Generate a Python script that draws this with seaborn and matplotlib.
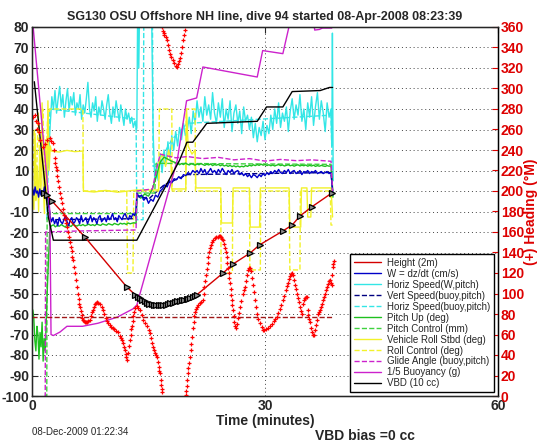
import numpy as np
import matplotlib
matplotlib.use("Agg")
import matplotlib.pyplot as plt
from matplotlib.lines import Line2D
import seaborn as sns

sns.set_style("white")
plt.rcParams['font.family'] = ['Liberation Sans', 'DejaVu Sans']

# ---------------- data (time in minutes) ----------------
# Height (2m): depth/2
height_t = [1.5, 1.9, 2.6, 6.8, 12.2, 13.3, 13.6, 13.9, 14.2, 14.5, 14.8, 15.1, 15.4, 15.7, 16.0,
            16.3, 16.6, 16.9, 17.2, 17.5, 17.8, 18.1, 18.4, 18.7, 19.0, 19.3, 19.6, 19.9, 20.1,
            20.4, 20.7, 21.0, 21.2, 24.6, 25.9, 28.1, 29.3, 32.3, 33.5, 34.5, 36.0, 38.6]
height_v = [-1, -2, -5, -22.4, -46.8, -50.7, -51.6, -52.4, -53.1, -53.8, -54.4, -54.9, -55.2, -55.5, -55.7,
            -55.8, -55.8, -55.6, -55.4, -55.1, -54.8, -54.4, -54.0, -53.7, -53.5, -53.3, -53.0, -52.8, -52.7,
            -52.2, -51.6, -51.1, -50.7, -40, -35.6, -30.2, -26.3, -19.5, -16.6, -12.2, -7.8, -1]

# W = dz/dt (cm/s)
w_pre = [1, -2, 2, -1, 0, -3, 1, -2, 0, -1, 2, -3, -1]
w_dive = [-15, -13, -16, -14, -17, -13, -15, -16, -14, -12, -15, -17, -14, -13, -16, -15, -13, -14,
          -16, -12, -15, -14, -13, -16, -14, -12, -15, -13, -14, -16, -13, -12, -15, -14, -13, -15,
          -12, -14, -13, -11, -14, -13, -15, -12, -13, -14, -12, -11, -13, -14, -12, -13, -11, -12, -10]
w_turn_t = [13.5, 13.8, 14.1, 14.4, 14.7, 15.0, 15.3, 15.6, 15.9, 16.2, 16.5, 16.8, 17.1, 17.4, 17.7,
            18.0, 18.3, 18.6, 18.9, 19.2, 19.5, 19.8, 20.1, 20.4, 20.7, 21.0]
w_turn_v = [-1, -3, -2, -4.5, -3, -6, -4, -5, -2, -3, 0, 1, 3, 2, 5, 4, 6, 5.5, 7, 6, 8, 7.5, 9, 8, 10, 9]
w_climb = [10, 8.5, 11, 9, 10.5, 8, 9.5, 11, 9, 10, 8.5, 10.5, 9, 11, 9.5, 8, 10, 9, 10.5, 8.5, 9.5, 10,
           8, 9, 7.5, 8.5, 7, 8, 6.5, 8, 7.5, 6.5, 8, 7, 8.5, 7.5, 9, 8, 9.5, 8.5, 10, 9, 10.5, 9, 8.5,
           10, 9, 10.5, 8.5, 9.5, 10, 8.5, 9, 10, 8, 9.5, 9, 10, 8.5, 9.5, 9, 10, 8.5, 9, 9.5, 8.5, 9,
           9.5, 8.5, 9]

# Horiz Speed (W,pitch)
hs_dive = [5, 18, 33, 46, 40, 49, 38, 45, 51, 41, 47, 36, 44, 50, 39, 46, 42, 48, 37, 43, 40, 47, 35,
           42, 38, 45, 53, 40, 36, 43, 39, 46, 34, 41, 37, 44, 40, 35, 42, 47, 38, 33, 41, 36, 44, 39,
           34, 42, 37, 32, 40, 35, 38, 33, 36, 31, 34, 30]
hs_turn_t = [13.5, 13.6, 13.75, 13.85, 15.4, 15.6, 15.8]
hs_turn_v = [31, 88, 60, 88, 88, 28, 6]
hs_climb = [12, 5, 18, 9, 20, 13, 24, 16, 27, 20, 29, 22, 31, 25, 33, 27, 30, 36, 28, 39, 33, 44, 36,
            41, 34, 46, 37, 42, 35, 48, 38, 33, 43, 36, 45, 31, 40, 35, 44, 29, 38, 42, 33, 39, 28, 41,
            34, 37, 30, 36, 26, 33, 24, 31, 27, 34, 25, 32, 28, 37, 30, 40, 33, 43, 31, 38, 34, 41, 29,
            39, 45, 35, 42, 37, 47, 34, 40, 30, 43, 36, 46, 32, 41, 48, 35, 44, 38, 29, 43, 36, 40]
hs_end_t = [38.6, 38.68, 38.78]
hs_end_v = [22, 77, 5]

# Vert Speed (buoy,pitch)
vsb_t = [2.0, 2.4, 13.4, 13.5, 15.0, 17.0, 20.0, 38.5, 38.7]
vsb_v = [-2, -14, -13.5, -2, -4, 3, 8, 9, 0]

# Horiz Speed (buoy,pitch)
hsb_t = [1.9, 2.3, 13.4, 13.5, 14.3, 14.4, 15.5, 15.6, 16.5, 18.0, 20.0, 38.5, 38.7]
hsb_v = [-14, 40, 35, -14, -14, 90, 90, 12, 15, 25, 33, 37, 5]

# Pitch Up (deg)
pitch_pre = [-58, -62, -73, -78, -66, -70, -82, -69, -76, -64, -83, -72, -78]
pitch_dive = [-17, -16.5, -17.5, -16.8, -17.2, -16.4, -17, -17.6, -16.6, -16.9, -17.3, -16.2, -16.8,
              -17.1, -16.5, -16.9, -16.3, -17, -16.6, -16.2, -16.8, -16.4, -16.9, -16.1, -16.5, -16.8,
              -16, -16.4, -16.7, -15.9, -16.3, -16.6, -15.8, -16.2, -16.5, -15.7, -16.1, -15.8, -16.3,
              -15.6, -16, -15.7, -15.5, -15.9]
pitch_turn_t = [13.5, 14.0, 14.5, 15.0, 15.5, 16.0, 16.5, 17.0, 17.5, 18.0, 18.5]
pitch_turn_v = [-2, -3.5, -1.5, -2.5, 1, 7, 14, 16.5, 15.5, 14.5, 13.8]
pitch_climb = [13.5, 12.8, 13.4, 12.9, 13.6, 13.1, 12.7, 13.3, 13.0, 12.6, 13.2, 12.8, 13.4, 12.9, 12.5,
               13.1, 12.7, 13.2, 12.4, 12.9, 12.6, 13.0, 12.3, 12.8, 12.2, 12.6, 12.0, 12.5, 11.9, 12.3,
               11.8, 12.2, 11.7, 12.1, 11.8, 12.4, 12.0, 12.6, 12.2, 12.8, 12.4, 12.9, 12.5, 13.1, 12.6,
               12.9, 12.4, 12.8, 12.3, 12.7, 12.2, 12.6, 12.9, 12.4, 12.7, 12.2, 12.5, 12.8, 12.3, 12.6,
               12.1, 12.5, 12.8, 12.2, 12.6, 12.3, 12.7, 12.1, 12.5, 12.2, 12.6, 12.0, 12.4, 12.1, 12.5,
               12.2, 12.0, 12.4, 12.1, 12.3]

# Pitch Control (mm)
pc_t = [0.0, 1.9, 1.95, 13.4, 13.5, 15.8, 16.0, 38.5, 38.7]
pc_v = [-105, -105, -11, -11, -1, -1, 13.5, 13, 0]

# Vehicle Roll Stbd (deg)
roll_t = [0.1, 0.25, 0.4, 0.55, 0.7, 0.85, 1.0, 1.15, 1.3, 1.45, 1.6, 1.75, 1.9, 2.05, 2.2, 2.35, 2.5,
          3.5, 4.5, 5.5, 6.55, 6.62, 8.0, 9.5, 11.0, 12.4, 13.5, 16.3, 16.4, 16.8, 17.2, 17.6, 17.9,
          18.0, 19.8, 19.9, 20.1, 20.6, 21.0, 21.1, 24.3, 24.4, 25.8, 25.9, 28.0, 28.1, 29.3, 29.4,
          33.1, 33.2, 34.6, 34.7, 35.4, 35.5, 35.9, 36.0, 38.5, 38.7]
roll_v = [0, -9, 28, -4, 12, -10, 20, 0, 43, 3, -11, 25, -6, 44, 10, 22, 19.5,
          19, 19.8, 19.2, 19.5, 0, -0.5, 0.3, -0.6, 0, 0.5, 0.5, 15, 18, 12, 20, 14,
          1, 1, 40, 22, 18, 20, 1.5, 1.5, -15.6, -15.6, 1.5, 1.5, -17.6, -17.6, 1.5,
          1.5, -17.6, -17.6, 1.5, 1.5, -12.7, -12.7, 1.5, 1.5, -12.7]

# Roll Control (deg)
rc_t = [0.1, 0.3, 0.5, 0.8, 1.1, 1.4, 1.7, 2.0, 2.3, 6.55, 6.62, 12.2, 12.3, 13.0, 13.1, 16.3, 16.4,
        18.0, 18.05, 19.8, 19.85, 21.0, 21.05, 24.3, 24.35, 25.8, 25.85, 28.0, 28.05, 29.4, 29.45,
        33.1, 33.2, 34.5, 34.55, 38.4, 38.5, 38.7]
rc_v = [5, 30, -5, 38, 0, 40, -3, 35, 40, 40, 0, 0, -40, -40, 0, 0, 40,
        40, 0, 0, 40, 40, 0, 0, -40, -40, 0, 0, -38.5, -38.5, 0,
        0, -38.5, -38.5, 0, 0, -16.6, -16.6]

# Glide Angle (buoy,pitch)
ga_t = [0.0, 1.7, 1.75, 5.0, 9.0, 13.4, 13.5, 15.5, 16.0, 16.5, 17.0, 18.5, 20.0, 22.0, 24.0, 26.0,
        28.0, 30.0, 32.0, 34.0, 36.0, 38.5, 38.7]
ga_v = [-105, -105, -20, -19.6, -19.3, -19, 0, 1, 10, 18, 17.5, 16.2, 16.8, 15.8, 16.4, 15.2, 15.8,
        14.6, 15.4, 14.8, 15.2, 14.5, 0]

# 1/5 Buoyancy (g)
buoy_t = [0.0, 0.15, 2.3, 2.45, 2.75, 3.6, 4.5, 6.5, 8.5, 11.0, 13.0, 13.5, 18.7, 19.9, 21.2, 22.0,
          29.0, 29.7, 32.3, 33.2, 36.3, 36.4, 37.0, 37.4, 38.6]
buoy_v = [85, 80, -10, -70, -70.5, -68.8, -66, -66, -64.5, -61.5, -57.5, -55.6, 15, 44, 45.4, 60.5,
          55.6, 68.5, 67, 82, 82, 78.5, 78.8, 79.5, 79.5]

# VBD (10 cc)
vbd_t = [0.3, 2.1, 2.75, 13.5, 19.0, 19.95, 20.7, 22.5, 29.0, 30.2, 32.3, 33.5, 37.1, 38.3, 38.7]
vbd_v = [53.3, -12.7, -24, -24, 15, 23.8, 23.8, 33, 34, 41, 41, 48.5, 49, 50.5, 50.5]

# (+) Heading (deg M), right axis, as (minute, heading) pairs
heading_dive = [(0.13, 272), (0.39, 274), (0.5, 268), (0.64, 260), (0.77, 266), (0.9, 258), (1.03, 250),
    (1.42, 243), (1.7, 246), (1.93, 250), (2.32, 252), (2.5, 249), (2.7, 247), (2.8, 240), (2.9, 232),
    (2.96, 227), (3.08, 223), (3.2, 220), (3.28, 215), (3.35, 210), (3.47, 204), (3.6, 198), (3.73, 193),
    (3.86, 188), (4.0, 182), (4.12, 177), (4.25, 173), (4.38, 169), (4.5, 165), (4.62, 160), (4.75, 155),
    (4.9, 150), (5.0, 145), (5.1, 141), (5.2, 136), (5.28, 133), (5.4, 126), (5.53, 120), (5.66, 113),
    (5.79, 106), (5.9, 100), (6.0, 95), (6.1, 90), (6.18, 87), (6.28, 83), (6.38, 79), (6.47, 76),
    (6.56, 74), (6.7, 73), (6.85, 72), (7.0, 72), (7.08, 72), (7.25, 73), (7.46, 74), (7.6, 78),
    (7.75, 82), (7.85, 84), (8.0, 87), (8.1, 90), (8.25, 91), (8.37, 92), (8.55, 91), (8.75, 90),
    (8.95, 87), (9.14, 84), (9.3, 80), (9.52, 76), (9.65, 73), (9.78, 71), (10.0, 69), (10.2, 67),
    (10.4, 66), (10.6, 65), (10.85, 63), (11.07, 62), (11.3, 59), (11.45, 57), (11.58, 55), (11.7, 52),
    (11.85, 48), (11.97, 45), (12.05, 41), (12.15, 38), (12.23, 35), (12.35, 42), (12.45, 49),
    (12.6, 55), (12.7, 60), (12.8, 65), (12.87, 68), (12.95, 73), (13.05, 78), (13.13, 82), (13.3, 86),
    (13.5, 88), (13.7, 86), (13.9, 84), (14.1, 79), (14.29, 74), (14.5, 71), (14.8, 68), (15.0, 64),
    (15.19, 61), (15.3, 57), (15.45, 52), (15.57, 48), (15.7, 45), (15.83, 42), (15.95, 40), (16.09, 38),
    (16.2, 33), (16.3, 28), (16.4, 24), (16.47, 22), (16.55, 16), (16.62, 11), (16.68, 7), (16.73, 4)]
heading_turn = [(16.75, 360), (16.85, 356), (16.95, 354), (17.05, 352), (17.2, 350), (17.37, 347),
    (17.5, 342), (17.63, 338), (17.76, 334), (17.95, 331), (18.15, 328), (18.3, 325), (18.5, 322),
    (18.66, 321), (18.8, 324), (18.92, 327), (19.05, 330), (19.15, 335), (19.3, 340), (19.43, 347),
    (19.55, 352), (19.65, 357), (19.8, 1), (19.88, 5), (19.95, 10), (20.02, 16), (20.08, 22), (20.15, 27),
    (20.22, 32), (20.33, 38), (20.42, 45), (20.5, 51), (20.6, 58), (20.7, 66), (20.8, 72), (20.9, 78),
    (20.98, 82), (21.1, 85), (21.24, 87), (21.4, 89), (21.6, 91), (21.8, 92), (22.0, 94)]
heading_climb = [(22.1, 100), (22.2, 106), (22.3, 112), (22.4, 118), (22.5, 124), (22.6, 130), (22.7, 136),
    (22.8, 140), (22.9, 144), (23.05, 147), (23.17, 150), (23.35, 152), (23.55, 154), (23.75, 155),
    (23.94, 155), (24.1, 156), (24.2, 156), (24.3, 155), (24.45, 153), (24.58, 152), (24.7, 148),
    (24.84, 144), (24.95, 140), (25.05, 136), (25.15, 130), (25.25, 125), (25.35, 120), (25.42, 115),
    (25.48, 110), (25.56, 104), (25.64, 99), (25.74, 94), (25.8, 89), (25.87, 84), (25.95, 78),
    (26.04, 72), (26.13, 68), (26.25, 66), (26.38, 70), (26.5, 76), (26.62, 81), (26.77, 87),
    (26.95, 93), (27.15, 100), (27.28, 103), (27.41, 106), (27.55, 112), (27.68, 118), (27.8, 123),
    (27.93, 125), (28.06, 125), (28.2, 122), (28.32, 115), (28.44, 108), (28.57, 101), (28.7, 94),
    (28.83, 87), (28.96, 80), (29.15, 75), (29.34, 71), (29.55, 67), (29.73, 64), (29.9, 64), (30.1, 65),
    (30.35, 66), (30.63, 68), (30.85, 70), (31.1, 73), (31.3, 75), (31.5, 77), (31.7, 81), (31.9, 85),
    (32.1, 89), (32.3, 94), (32.5, 98), (32.7, 103), (32.85, 107), (32.95, 110), (33.1, 114), (33.2, 117),
    (33.33, 119), (33.46, 120), (33.6, 118), (33.72, 113), (33.85, 108), (33.97, 104), (34.1, 100),
    (34.23, 96), (34.36, 92), (34.5, 87), (34.62, 83), (34.75, 80), (34.88, 90), (35.0, 94), (35.1, 96),
    (35.25, 97), (35.4, 97), (35.5, 84), (35.6, 79), (35.7, 75), (35.8, 72), (35.9, 66), (36.0, 62),
    (36.15, 60), (36.3, 60), (36.4, 64), (36.55, 69), (36.7, 74), (36.8, 80), (36.93, 82), (37.07, 84),
    (37.2, 87), (37.3, 90), (37.45, 94), (37.57, 97), (37.7, 100), (37.83, 103), (37.97, 106), (38.1, 109),
    (38.2, 112), (38.35, 113), (38.48, 110), (38.6, 108), (38.68, 118), (38.74, 126), (38.8, 129),
    (38.87, 132)]
head_target = [77, 77]
head_target_t = [0.0, 38.6]

y_ticks = list(range(-100, 81, 10))
h_ticks = list(range(0, 361, 20))
x_ticks = [0, 30, 60]

# ---------------- assemble ----------------
def seg(t0, t1, vals):
    return np.linspace(t0, t1, len(vals))

w_t = np.concatenate([seg(0.1, 1.9, w_pre), [2.1, 2.3], seg(2.5, 13.4, w_dive), w_turn_t,
                      seg(21.25, 38.5, w_climb), [38.65, 38.75]])
w_v = np.concatenate([w_pre, [-5, -12], w_dive, w_turn_v, w_climb, [2, -2]])
hs_t = np.concatenate([seg(1.95, 13.45, hs_dive), hs_turn_t, seg(16.0, 38.5, hs_climb), hs_end_t])
hs_v = np.concatenate([hs_dive, hs_turn_v, hs_climb, hs_end_v])
p_t = np.concatenate([seg(0.1, 1.7, pitch_pre), [2.0, 2.3], seg(2.5, 13.4, pitch_dive), pitch_turn_t,
                      seg(18.75, 38.5, pitch_climb), [38.65, 38.75]])
p_v = np.concatenate([pitch_pre, [-45, -18], pitch_dive, pitch_turn_v, pitch_climb, [5, -3]])
heading = np.array(heading_dive + heading_turn + heading_climb, float)

# ---------------- figure ----------------
fig = plt.figure(figsize=(5.46, 4.42), dpi=100)
ax = fig.add_axes([32 / 546, 1 - 396 / 442, 466 / 546, 369 / 442])
ax2 = ax.twinx()

C_RED = '#d40000'
C_BLUE = '#0000c8'
C_CYAN = '#33e6e6'
C_NAVY = '#000080'
C_GREEN = '#1fc01f'
C_GREEN2 = '#3fd23f'
C_YEL = '#f2f22a'
C_MAG = '#cc22cc'

def line(x, y, color, ls='-', lw=1.0, **kw):
    sns.lineplot(x=np.asarray(x, float), y=np.asarray(y, float), ax=ax, color=color, linestyle=ls,
                 linewidth=lw, estimator=None, sort=False, legend=False, **kw)

line(hs_t, hs_v, C_CYAN)
line(hsb_t, hsb_v, C_CYAN, '--')
line(vsb_t, vsb_v, C_NAVY, '--')
line(roll_t, roll_v, C_YEL)
line(rc_t, rc_v, C_YEL, '--')
line(pc_t, pc_v, C_GREEN2, '--')
line(p_t, p_v, C_GREEN)
line(w_t, w_v, C_BLUE)
line(ga_t, ga_v, C_MAG, '--')
line(buoy_t, buoy_v, C_MAG)
line(vbd_t, vbd_v, 'black')
line(height_t, height_v, C_RED, marker='>', markersize=5, markeredgecolor='black',
     markerfacecolor='#909090', markeredgewidth=0.9)

sns.lineplot(x=head_target_t, y=head_target, ax=ax2, color='#a01818', linestyle='--', linewidth=1.0,
             estimator=None, legend=False)
sns.lineplot(x=heading[:, 0], y=heading[:, 1], ax=ax2, color='red', linestyle='none', marker='+',
             markersize=3.5, markeredgecolor='red', markeredgewidth=0.9, estimator=None, sort=False,
             legend=False)

ax.set_xlim(0, 60)
ax.set_ylim(-100, 80)
ax2.set_ylim(0, 360)
ax.set_xticks(x_ticks)
ax.set_yticks(y_ticks)
ax2.set_yticks(h_ticks)
ax.set_xticklabels([str(v) for v in x_ticks], fontsize=10, fontweight='bold')
ax.set_yticklabels([str(v) for v in y_ticks], fontsize=10, fontweight='bold')
ax2.set_yticklabels([str(v) for v in h_ticks], fontsize=10, fontweight='bold', color='#dd0000')
ax.tick_params(axis='both', direction='in', length=4, width=0.8, top=True, pad=2)
ax2.tick_params(axis='y', direction='in', length=4, width=0.8, colors='#dd0000', pad=2)
ax.grid(True, linestyle=(0, (1, 3)), color='#444444', linewidth=0.7)
for sp in ax.spines.values():
    sp.set_linewidth(1.0)
    sp.set_color('black')
ax2.spines['right'].set_color('black')

ax.set_xlabel('Time (minutes)', fontsize=10, fontweight='bold', labelpad=1)
ax2.set_ylabel('(+) Heading (\u00b0M)', fontsize=10, fontweight='bold', color='#dd0000', labelpad=0)
ax.set_title('SG130 OSU Offshore NH line, dive 94 started 08-Apr-2008 08:23:39', fontsize=9,
             fontweight='bold', pad=5)

fig.text(32 / 546, 1 - 432 / 442, '08-Dec-2009 01:22:34', fontsize=7, va='center', ha='left')
fig.text(365 / 546, 1 - 436 / 442, 'VBD bias =0 cc', fontsize=10, fontweight='bold', va='center',
         ha='center')

labels = ['Height (2m)', 'W = dz/dt (cm/s)', 'Horiz Speed(W,pitch)', 'Vert Speed(buoy,pitch)',
          'Horiz Speed(buoy,pitch)', 'Pitch Up (deg)', 'Pitch Control (mm)', 'Vehicle Roll Stbd (deg)',
          'Roll Control (deg)', 'Glide Angle (buoy,pitch)', '1/5 Buoyancy (g)', 'VBD (10 cc)']
styles = [(C_RED, '-'), (C_BLUE, '-'), (C_CYAN, '-'), (C_NAVY, '--'), (C_CYAN, '--'), (C_GREEN, '-'),
          (C_GREEN2, '--'), (C_YEL, '-'), (C_YEL, '--'), (C_MAG, '--'), (C_MAG, '-'), ('black', '-')]
handles = [Line2D([], [], color=c, linestyle=s, linewidth=1.0) for c, s in styles]
leg = ax2.legend(handles, labels, loc='lower right', bbox_to_anchor=(0.992, 0.01), borderaxespad=0,
                 fontsize=7, frameon=True, fancybox=False, framealpha=1, edgecolor='black',
                 handlelength=2.8, labelspacing=0.1, borderpad=0.4, handletextpad=0.6)
leg.get_frame().set_linewidth(1.0)

fig.savefig('out.png', dpi=100)
